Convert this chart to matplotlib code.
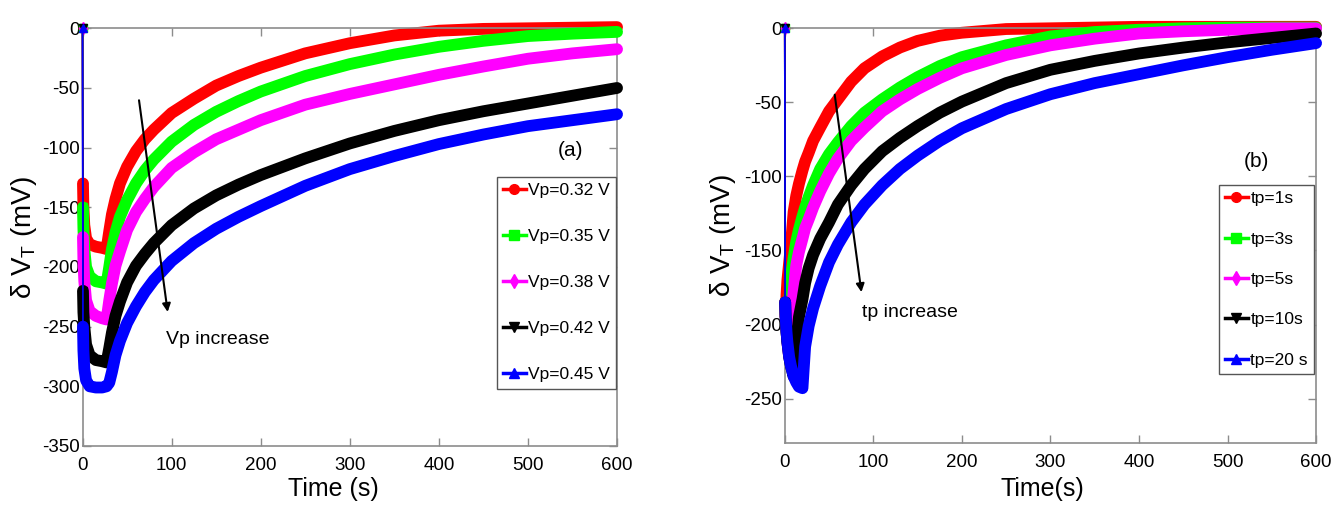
import numpy as np
import matplotlib
matplotlib.use("Agg")
import matplotlib.pyplot as plt
from matplotlib.lines import Line2D

plt.rcParams['font.family'] = ['Liberation Sans', 'DejaVu Sans']
plt.rcParams['axes.unicode_minus'] = False

# ---- panel (a): different stress voltages ----
t_a = [0, 0.5, 1, 2, 4, 8, 15, 22, 27, 30, 33, 37, 42, 50, 60, 70, 80, 100,
       125, 150, 175, 200, 250, 300, 350, 400, 450, 500, 550, 600]
vp032 = [0, -130, -150, -165, -176, -181, -183, -184, -185, -170, -156, -143, -130, -116,
         -103, -93, -85, -71, -59, -48, -40, -33, -21, -12.5, -6, -2, -0.5, 0, 0.5, 1]
vp035 = [0, -150, -168, -185, -200, -208, -212, -213, -214, -200, -185, -171, -158, -144,
         -130, -119, -110, -95, -81, -70, -61, -53, -40, -30, -22, -15.5, -10.5, -6.5, -4.5, -3]
vp038 = [0, -175, -195, -212, -228, -237, -241, -243, -244, -228, -214, -199, -187, -169,
         -154, -143, -133, -117, -104, -93, -85, -77, -64, -55, -47, -39, -32, -25.5, -21, -17.5]
vp042 = [0, -220, -238, -250, -265, -274, -278, -279, -280, -268, -255, -241, -229, -213,
         -199, -189, -180, -165, -151, -140, -131, -123, -109, -96.5, -86, -77, -69.5, -63, -56.5, -50]
vp045 = [0, -250, -270, -285, -295, -300, -301, -301, -300, -297, -288, -274, -262, -247,
         -233, -221, -211, -195, -180, -168, -158, -149, -132, -118, -107, -97, -89, -82, -77, -72]
series_a = [vp032, vp035, vp038, vp042, vp045]
labels_a = ['Vp=0.32 V', 'Vp=0.35 V', 'Vp=0.38 V', 'Vp=0.42 V', 'Vp=0.45 V']

# ---- panel (b): different stress times ----
t_b = [0, 0.5, 1, 2, 3, 5, 7, 10, 13, 16, 20, 23, 27, 32, 40, 50, 60, 75, 90, 110,
       130, 150, 175, 200, 250, 300, 350, 400, 450, 500, 550, 600]
tp1 = [0, -185, -195, -180, -170, -158, -146, -124, -113, -105, -96, -90, -84, -76, -67,
       -56, -48, -36, -27, -19, -13, -8.5, -5, -3, -0.5, 0, 0.5, 1, 1, 1, 1, 1]
tp3 = [0, -185, -195, -205, -212, -185, -168, -155, -144, -136, -127, -121, -114, -106, -95,
       -85, -77, -66, -57, -48, -40, -33, -25.5, -19.5, -11.5, -5.5, -2.5, -1, 0, 0.5, 0.5, 0.5]
tp5 = [0, -185, -195, -205, -212, -222, -200, -178, -160, -151, -142, -135, -129, -121, -110,
       -98, -88, -76, -67, -56, -48, -41, -33.5, -27, -18, -11.5, -7, -3.5, -2, -1, 0, 0]
tp10 = [0, -185, -195, -205, -212, -222, -228, -235, -213, -195, -183, -172, -162, -153, -142,
        -131, -119, -106, -95, -83, -74, -66, -57, -49.5, -37, -28, -22, -17, -13, -9.5, -6.5, -3.5]
tp20 = [0, -185, -195, -205, -212, -222, -228, -235, -239, -242, -243, -215, -201, -189, -174,
        -158, -146, -131, -119, -106, -95, -86, -76, -67.5, -54.5, -44.5, -37, -31, -25, -19.5, -14.5, -10]
series_b = [tp1, tp3, tp5, tp10, tp20]
labels_b = ['tp=1s', 'tp=3s', 'tp=5s', 'tp=10s', 'tp=20 s']

colors = ['#ff0000', '#00ff00', '#ff00ff', '#000000', '#0000ff']
markers = ['o', 's', 'd', 'v', '^']

fig = plt.figure(figsize=(13.31, 5.09), dpi=100)
ax1 = fig.add_axes([0.062, 0.1238, 0.4016, 0.8206])
ax2 = fig.add_axes([0.5896, 0.1297, 0.3992, 0.8147])


def draw_panel(ax, t, series):
    t = np.array(t)
    for i, v in enumerate(series):
        v = np.array(v)
        # thick band imitating the dense markers
        ax.plot(t[1:], v[1:], color=colors[i], lw=8.5, solid_capstyle='round',
                solid_joinstyle='round', zorder=2 + i, clip_on=False)
        # thin connecting line from the origin
        ax.plot(t, v, color=colors[i], lw=1.2, marker=markers[i], ms=6,
                markevery=[0, 1, 2], zorder=2 + i, clip_on=False)
    handles = [Line2D([], [], color=colors[i], lw=2.5, marker=markers[i], ms=7)
               for i in range(len(series))]
    return handles


h1 = draw_panel(ax1, t_a, series_a)
h2 = draw_panel(ax2, t_b, series_b)

for ax in (ax1, ax2):
    ax.set_xlim(0, 600)
    ax.set_xticks(range(0, 601, 100))
    for s in ax.spines.values():
        s.set_color('#8c8c8c')
        s.set_linewidth(1.2)
    ax.tick_params(direction='in', length=6, width=1, color='#8c8c8c', labelsize=13.5,
                   top=True, right=True)
    ax.tick_params(axis='x', pad=8)
    ax.tick_params(axis='y', pad=2)

ax1.set_ylim(-350, 0)
ax1.set_yticks(range(-350, 1, 50))
ax2.set_ylim(-280, 0)
ax2.set_yticks(range(-250, 1, 50))

ylab = 'δ V$_\\mathregular{T}$ (mV)'
ax1.set_ylabel(ylab, fontsize=20)
ax1.yaxis.set_label_coords(-0.082, 0.5)
ax2.set_ylabel(ylab, fontsize=20)
ax2.yaxis.set_label_coords(-0.088, 0.5)

ax1.set_xlabel('Time (s)', fontsize=18)
ax1.xaxis.set_label_coords(0.469, -0.075)
ax2.set_xlabel('Time(s)', fontsize=18)
ax2.xaxis.set_label_coords(0.484, -0.082)

leg_kw = dict(loc='upper left', fontsize=12.5, handlelength=1.3, handletextpad=0.15,
              borderpad=0.35, borderaxespad=0, fancybox=False, framealpha=1,
              edgecolor='#555555')
l1 = ax1.legend(h1, labels_a, bbox_to_anchor=(0.7755, 0.644), labelspacing=1.78, **leg_kw)
l2 = ax2.legend(h2, labels_b, bbox_to_anchor=(0.8174, 0.622), labelspacing=1.45, **leg_kw)
for l in (l1, l2):
    l.get_frame().set_linewidth(1.0)
    l.set_zorder(20)

ax1.text(548, -102, '(a)', fontsize=15, ha='center', va='center')
ax2.text(533, -90, '(b)', fontsize=15, ha='center', va='center')

ax1.annotate('', xy=(96, -240), xytext=(63, -58),
             arrowprops=dict(arrowstyle='-|>', color='black', lw=1.5, mutation_scale=12),
             zorder=15)
ax1.text(94, -261, 'Vp increase', fontsize=14, ha='left', va='center', zorder=15)
ax2.annotate('', xy=(87, -180), xytext=(56, -43),
             arrowprops=dict(arrowstyle='-|>', color='black', lw=1.5, mutation_scale=12),
             zorder=15)
ax2.text(87, -192, 'tp increase', fontsize=14, ha='left', va='center', zorder=15)

fig.savefig('out.png', dpi=100)
